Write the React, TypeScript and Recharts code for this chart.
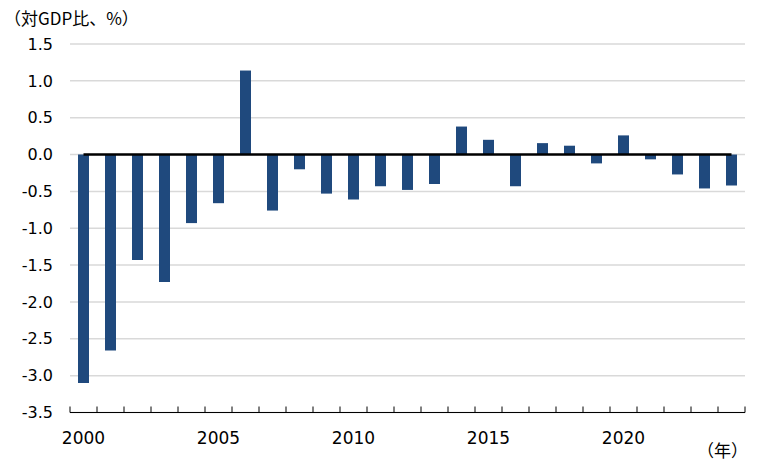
import { BarChart, Bar, XAxis, YAxis, CartesianGrid, ReferenceLine } from 'recharts';

const years = [
    '2000', '2001', '2002', '2003', '2004', '2005', '2006', '2007', '2008', '2009',
    '2010', '2011', '2012', '2013', '2014', '2015', '2016', '2017', '2018', '2019',
    '2020', '2021', '2022', '2023', '2024',
];
const balance = [
    -3.10, -2.66, -1.43, -1.73, -0.93, -0.66, 1.14, -0.76, -0.20, -0.53,
    -0.61, -0.43, -0.48, -0.40, 0.38, 0.20, -0.43, 0.155, 0.12, -0.12,
    0.26, -0.065, -0.27, -0.46, -0.42,
];
const labeledYears = ['2000', '2005', '2010', '2015', '2020'];
const yTicks = [-3.5, -3.0, -2.5, -2.0, -1.5, -1.0, -0.5, 0.0, 0.5, 1.0, 1.5];

const data = years.map((year, i) => ({ year, value: balance[i] }));

const numFont = '"DejaVu Sans", Verdana, sans-serif';
const jpFont = '"Noto Sans CJK JP", sans-serif';

// category axis tick: boundary tick mark pointing up + label every 5 years
const YearTick = (props: any) => {
    const { x, y, payload, index } = props;
    const half = payload.offset ?? 0;
    const last = index === years.length - 1;
    return (
        <g>
            <line x1={x - half} x2={x - half} y1={y} y2={y - 6} stroke="#000" strokeWidth={1} />
            {last && <line x1={x + half} x2={x + half} y1={y} y2={y - 6} stroke="#000" strokeWidth={1} />}
            {labeledYears.includes(payload.value) && (
                <text x={x} y={y + 31} textAnchor="middle" fontSize={17} fontFamily={numFont} fill="#000">
                    {payload.value}
                </text>
            )}
        </g>
    );
};

export default function App() {
    return (
        <div style={{ position: 'absolute', left: 0, top: 0, width: 762, height: 474, background: '#fff' }}>
            <BarChart
                width={762}
                height={474}
                data={data}
                margin={{ top: 44, right: 17, bottom: 0, left: 0 }}
                barCategoryGap={0}
            >
                <CartesianGrid vertical={false} stroke="#d9d9d9" strokeWidth={1.5} />
                <XAxis
                    dataKey="year"
                    interval={0}
                    height={61.5}
                    tickSize={0}
                    tickMargin={0}
                    tickLine={false}
                    axisLine={{ stroke: '#000', strokeWidth: 1.2 }}
                    tick={<YearTick />}
                />
                <YAxis
                    width={70}
                    domain={[-3.5, 1.5]}
                    ticks={yTicks}
                    interval={0}
                    axisLine={false}
                    tickLine={false}
                    tickMargin={11}
                    tickFormatter={(v: number) => v.toFixed(1)}
                    tick={{ fontSize: 16, fontFamily: numFont, fill: '#000' }}
                />
                <Bar dataKey="value" fill="#1f497d" barSize={11} isAnimationActive={false} />
                <ReferenceLine
                    segment={[{ x: years[0], y: 0 }, { x: years[years.length - 1], y: 0 }]}
                    stroke="#000"
                    strokeWidth={2.5}
                />
            </BarChart>
            <div style={{ position: 'absolute', left: 4, top: 5, fontSize: 17, fontFamily: jpFont, color: '#000', whiteSpace: 'nowrap' }}>
                （対GDP比、%）
            </div>
            <div style={{ position: 'absolute', left: 697, top: 437, fontSize: 17, fontFamily: jpFont, color: '#000', whiteSpace: 'nowrap' }}>
                （年）
            </div>
        </div>
    );
}
